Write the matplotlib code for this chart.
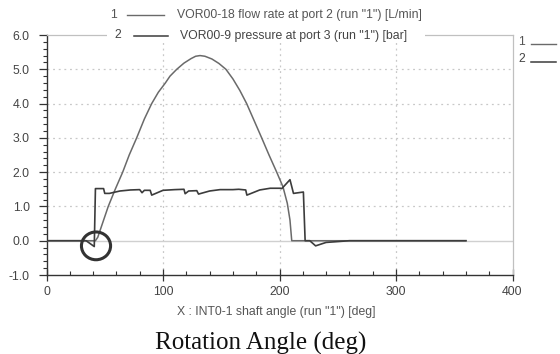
import matplotlib
matplotlib.use("Agg")
import matplotlib.pyplot as plt
from matplotlib.lines import Line2D
from matplotlib.patches import Rectangle, Ellipse
from matplotlib.ticker import MultipleLocator, FormatStrFormatter

# ---- data ----
flow_deg = [0, 42, 44, 48, 53, 59, 65.4, 71, 77.4, 84, 90.3, 96, 102, 106, 111.8,
            118, 124, 128, 131.8, 136, 142, 148, 154, 160, 166, 171.8, 178, 184.7,
            191, 197.6, 203, 206.7, 209, 210.5, 360]
flow_val = [0, 0, 0.1, 0.5, 1.0, 1.5, 2.0, 2.5, 3.0, 3.55, 4.0, 4.33, 4.6, 4.8, 5.0,
            5.18, 5.31, 5.38, 5.40, 5.38, 5.30, 5.17, 5.0, 4.72, 4.38, 4.0, 3.52, 3.0,
            2.5, 2.0, 1.57, 1.09, 0.6, 0.0, 0.0]

pres_deg = [0, 34, 41, 42, 49, 50, 54, 63, 72, 80, 82, 84, 89, 90.3, 100, 110, 118,
            119, 122, 129, 130.5, 140, 149, 160, 165, 171, 172, 183, 192, 201, 202,
            209, 212, 220.5, 222, 226, 231, 240, 260, 360]
pres_val = [0, 0, -0.17, 1.52, 1.52, 1.38, 1.38, 1.45, 1.48, 1.49, 1.40, 1.47, 1.47,
            1.33, 1.47, 1.49, 1.50, 1.37, 1.45, 1.46, 1.36, 1.45, 1.49, 1.49, 1.50,
            1.48, 1.33, 1.48, 1.53, 1.53, 1.52, 1.78, 1.38, 1.42, 0, 0, -0.15, -0.05,
            0, 0]

legend1 = 'VOR00-18 flow rate at port 2 (run "1") [L/min]'
legend2 = 'VOR00-9 pressure at port 3 (run "1") [bar]'
xlabel = 'X : INT0-1 shaft angle (run "1") [deg]'
caption = 'Rotation Angle (deg)'

W, H = 560, 354
fig = plt.figure(figsize=(W / 100, H / 100), dpi=100)
fig.patch.set_facecolor("white")

def fx(px):
    return px / W

def fy(py):
    return 1 - py / H

left, right, top, bottom = 46.5, 512.5, 35, 275
ax = fig.add_axes([fx(left), fy(bottom), (right - left) / W, (bottom - top) / H])

ax.set_xlim(0, 400)
ax.set_ylim(-1.0, 6.0)

# grid
for gx in [100, 200, 300]:
    ax.axvline(gx, color="#c8c8c8", lw=0.9, ls=(0, (1.5, 3)), zorder=0)
for gy in [1, 2, 3, 4, 5]:
    ax.axhline(gy, color="#c8c8c8", lw=0.9, ls=(0, (1.5, 3)), zorder=0)
ax.axhline(0, color="#d0d0d0", lw=1.0, zorder=0)

ax.plot(flow_deg, flow_val, color="#6a6a6a", lw=1.1, zorder=3)
ax.plot(pres_deg, pres_val, color="#3c3c3c", lw=1.2, zorder=4)

# circle annotation around the start
ax.add_patch(Ellipse((42.5, -0.15), 25, 0.81, fill=False, ec="#333333", lw=2.2, zorder=5))

# spines
for s in ["left", "bottom"]:
    ax.spines[s].set_color("#333333")
    ax.spines[s].set_linewidth(1.0)
for s in ["top", "right"]:
    ax.spines[s].set_color("#c0c0c0")
    ax.spines[s].set_linewidth(0.9)

sans = "Liberation Sans"
tcol = "#555555"
fs = 8.8

ax.xaxis.set_major_locator(MultipleLocator(100))
ax.xaxis.set_minor_locator(MultipleLocator(20))
ax.yaxis.set_major_locator(MultipleLocator(1.0))
ax.yaxis.set_minor_locator(MultipleLocator(0.2))
ax.yaxis.set_major_formatter(FormatStrFormatter("%.1f"))
ax.tick_params(axis="both", which="major", width=0.9, color="#333333",
               labelsize=fs, labelcolor="#444444", labelfontfamily=sans)
ax.tick_params(axis="x", which="major", direction="inout", length=8, pad=4)
ax.tick_params(axis="x", which="minor", direction="in", length=3, width=0.8, color="#333333")
ax.tick_params(axis="y", which="major", direction="out", length=6, pad=6)
ax.tick_params(axis="y", which="minor", direction="out", length=3, width=0.8, color="#333333")

# top legend
fig.text(fx(113.5), fy(15), "1", ha="center", va="center", fontsize=fs, color=tcol, family=sans)
fig.add_artist(Line2D([fx(127), fx(164)], [fy(15), fy(15)], color="#6a6a6a", lw=1.0))
fig.text(fx(177), fy(15), legend1, ha="left", va="center", fontsize=fs, color=tcol, family=sans)

fig.add_artist(Rectangle((fx(107), fy(42)), fx(425) - fx(107), fy(29) - fy(42),
                         facecolor="white", edgecolor="none", zorder=3))
fig.text(fx(118), fy(35.5), "2", ha="center", va="center", fontsize=fs, color="#444444",
         family=sans, zorder=4)
fig.add_artist(Line2D([fx(134), fx(168)], [fy(35.5), fy(35.5)], color="#3c3c3c", lw=1.1,
                      zorder=4))
fig.text(fx(180), fy(35.5), legend2, ha="left", va="center", fontsize=fs, color="#444444",
         family=sans, zorder=4)

# right side legend stubs
fig.text(fx(518), fy(42), "1", ha="left", va="center", fontsize=fs, color=tcol, family=sans)
fig.add_artist(Line2D([fx(531), fx(556)], [fy(44), fy(44)], color="#6a6a6a", lw=1.0))
fig.text(fx(518), fy(59), "2", ha="left", va="center", fontsize=fs, color="#444444", family=sans)
fig.add_artist(Line2D([fx(531), fx(556)], [fy(62), fy(62)], color="#3c3c3c", lw=1.1))

# axis label and caption
fig.text(fx(276), fy(312), xlabel, ha="center", va="center", fontsize=fs, color=tcol, family=sans)
fig.text(fx(261), fy(343), caption, ha="center", va="center", fontsize=18, color="#111111",
         family="Liberation Serif")

fig.savefig("out.png", dpi=100, facecolor="white")
